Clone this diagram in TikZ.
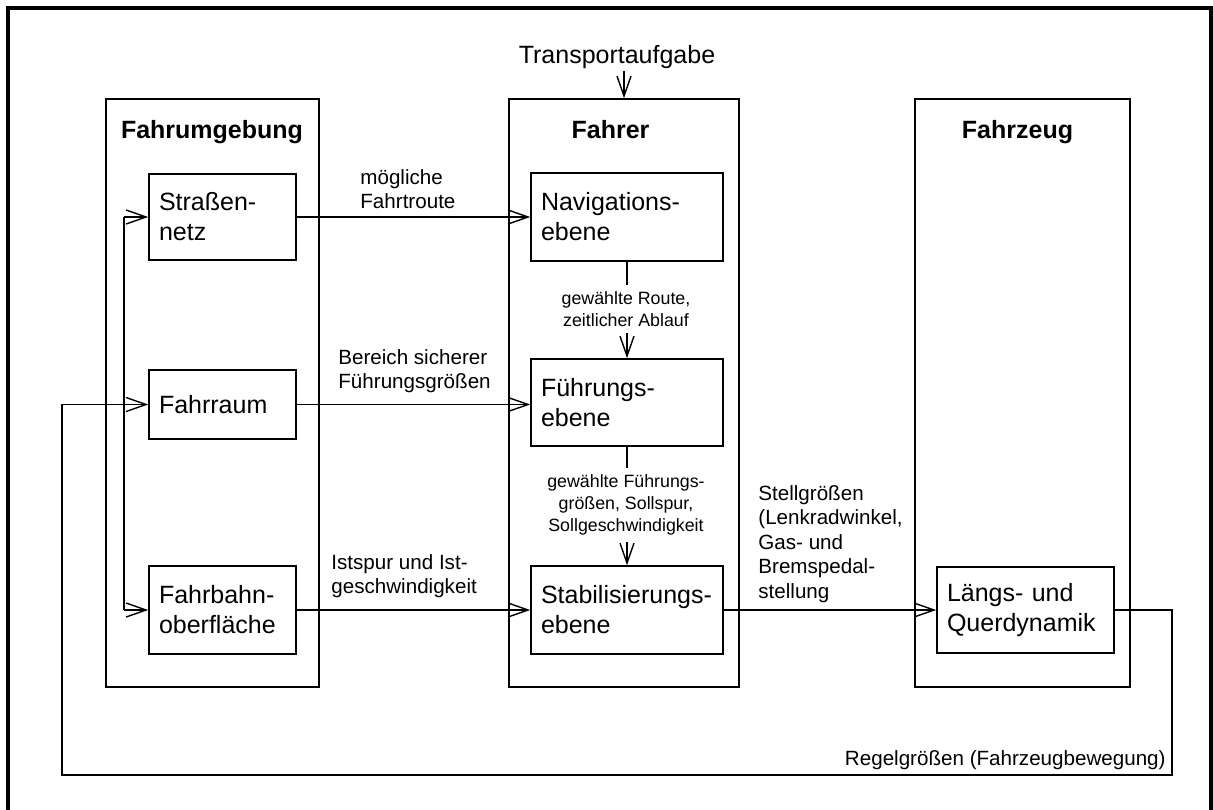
\documentclass[tikz,border=0pt]{standalone}
\usepackage{fontspec}
\setmainfont{Liberation Sans}
\usetikzlibrary{positioning, arrows.meta}

\tikzset{
  grp/.style={draw, line width=0.8pt, minimum height=294pt},
  blk/.style={draw, line width=0.8pt, align=left, inner xsep=5pt, font=\fontsize{12.5}{15}\selectfont},
  ttl/.style={font=\fontsize{12.5}{15}\selectfont\bfseries, inner sep=0pt},
  lbl/.style={align=left, font=\fontsize{10.3}{12.2}\selectfont, inner sep=1pt},
  slbl/.style={align=center, font=\fontsize{8.9}{11}\selectfont, inner xsep=1pt, inner ysep=3pt},
  pfeil/.style={-{Straight Barb[length=10pt,width=7pt]}, line width=0.7pt},
  lin/.style={line width=0.7pt}
}

\begin{document}
\begin{tikzpicture}[x=0.5pt, y=-0.5pt]
\useasboundingbox (0,0) rectangle (1213,809);
\draw[line width=1.6pt] (8,830) -- (8,8) -- (1211,8) -- (1211,830);

% drei Bereiche
\node[grp, minimum width=106.5pt] (umg) at (212.5,393) {};
\node[grp, minimum width=115pt] (fahrer) at (624,393) {};
\node[grp, minimum width=107.5pt] (fzg) at (1022.5,393) {};
\node[ttl, anchor=base] at (212,138) {Fahrumgebung};
\node[ttl, anchor=base] at (610.5,138) {Fahrer};
\node[ttl, anchor=base] at (1017.5,138) {Fahrzeug};

% Fahrumgebung
\node[blk, text width=63.5pt, minimum height=43pt] (strasse) at (222.5,217) {Straßen-\\netz};
\node[blk, text width=63.5pt, minimum height=34.5pt] (raum) at (222.5,404.5) {Fahrraum};
\node[blk, text width=63.5pt, minimum height=44pt] (bahn) at (222.5,610) {Fahrbahn-\\oberfläche};

% Fahrer
\node[blk, text width=86pt, minimum height=44pt] (nav) at (627,217) {Navigations-\\ebene};
\node[blk, text width=86pt, minimum height=43.5pt] (fuehr) at (627,402.5) {Führungs-\\ebene};
\node[blk, text width=86pt, minimum height=44pt] (stab) at (627,610) {Stabilisierungs-\\ebene};
\node[slbl] (route) at (626,309) {gewählte Route,\\zeitlicher Ablauf};
\node[slbl] (soll) at (626,505) {gewählte Führungs-\\größen, Sollspur,\\Sollgeschwindigkeit};

% Fahrzeug
\node[blk, text width=78.5pt, minimum height=43pt] (dyn) at (1025.5,610) {Längs- und\\Querdynamik};

\node[anchor=base, font=\fontsize{12.5}{15}\selectfont, inner sep=1pt] (task) at (617,63) {Transportaufgabe};
\draw[pfeil] (task.south -| fahrer.north) -- (fahrer.north);

\draw[lin] (nav.south) -- (nav.south |- route.north);
\draw[pfeil] (route.south -| fuehr.north) -- (fuehr.north);
\draw[lin] (fuehr.south) -- (fuehr.south |- soll.north);
\draw[pfeil] (soll.south -| stab.north) -- (stab.north);

\draw[pfeil] (strasse.east) -- (nav.west);
\draw[pfeil] (raum.east) -- (raum.east -| fuehr.west);
\draw[pfeil] (bahn.east) -- (stab.west);
\draw[pfeil] (stab.east) -- (dyn.west);

\node[lbl, anchor=west] at (358,189) {mögliche\\Fahrtroute};
\node[lbl, anchor=west] at (336,371) {Bereich sicherer\\Führungsgrößen};
\node[lbl, anchor=west] at (329,576) {Istspur und Ist-\\geschwindigkeit};
\node[lbl, anchor=west] at (756,544) {Stellgrößen\\(Lenkradwinkel,\\Gas- und\\Bremspedal-\\stellung};

% Rückführung
\coordinate (fbtop) at (124,217);
\coordinate (fbbot) at (124,610);
\draw[pfeil] (fbtop) -- (strasse.west);
\draw[lin] (fbtop) -- (fbbot);
\draw[pfeil] (fbbot) -- (bahn.west);

\coordinate (fbr) at (1172,775);
\coordinate (fbl) at (62,775);
\draw[pfeil] (dyn.east) -| (fbr) -- (fbl) |- (raum.west);
\node[lbl, anchor=base east] at (1168,765) {Regelgrößen (Fahrzeugbewegung)};
\end{tikzpicture}
\end{document}
